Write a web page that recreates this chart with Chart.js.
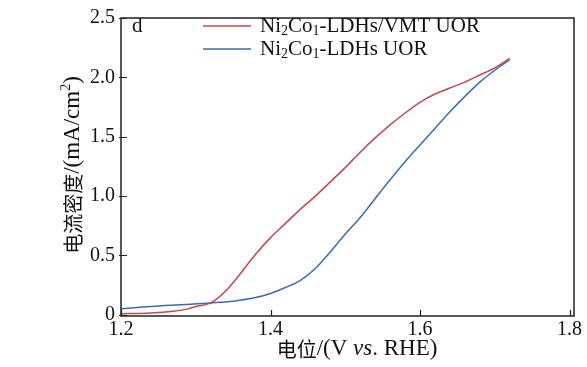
<!DOCTYPE html>
<html>
<head>
<meta charset="utf-8">
<script src="https://cdn.jsdelivr.net/npm/chart.js@4.4.1/dist/chart.umd.min.js"></script>
<style>
  html, body { margin: 0; padding: 0; background: #fff; }
  #wrap { width: 587px; height: 367px; }
</style>
</head>
<body>
<div id="wrap"><canvas id="lsv"></canvas></div>
<script>
// potential (V vs. RHE) and current density (mA/cm2)
const potentialVmt = [1.20, 1.24, 1.27, 1.29, 1.30, 1.32, 1.34, 1.36, 1.38, 1.40, 1.42, 1.44, 1.46, 1.48, 1.50, 1.52, 1.54, 1.56, 1.58, 1.60, 1.62, 1.64, 1.66, 1.68, 1.70, 1.72];
const currentVmt   = [0.01, 0.015, 0.03, 0.05, 0.07, 0.10, 0.20, 0.35, 0.51, 0.65, 0.77, 0.89, 1.00, 1.12, 1.24, 1.37, 1.49, 1.60, 1.70, 1.79, 1.86, 1.91, 1.96, 2.02, 2.08, 2.16];

const potentialLdh = [1.20, 1.24, 1.28, 1.32, 1.35, 1.38, 1.40, 1.42, 1.44, 1.46, 1.48, 1.50, 1.52, 1.55, 1.58, 1.60, 1.62, 1.64, 1.66, 1.68, 1.70, 1.72];
const currentLdh   = [0.05, 0.07, 0.085, 0.10, 0.115, 0.145, 0.18, 0.23, 0.29, 0.39, 0.53, 0.68, 0.82, 1.06, 1.29, 1.43, 1.57, 1.71, 1.84, 1.96, 2.06, 2.15];

const xTicks = [1.2, 1.4, 1.6, 1.8];
const yTicks = [0, 0.5, 1.0, 1.5, 2.0, 2.5];

const serif = "'Liberation Serif', 'Times New Roman', 'Noto Sans CJK SC', serif";
const cjk = "'Noto Sans CJK SC', 'Liberation Serif', serif";

function toPoints(xs, ys) {
    return xs.map((x, i) => ({ x: x, y: ys[i] }));
}

// draws a run of text pieces with different fonts, centred or left aligned
function drawRun(ctx, parts, x, y, centred) {
    let total = 0;
    parts.forEach(p => { ctx.font = p.f; p.w = ctx.measureText(p.t).width; total += p.w; });
    let cx = centred ? x - total / 2 : x;
    parts.forEach(p => {
        ctx.font = p.f;
        ctx.fillText(p.t, cx, y + (p.dy || 0));
        cx += p.w;
    });
}

// frame, inner ticks, axis titles, panel letter and legend
const decorations = {
    id: 'decorations',
    afterDraw(chart) {
        const ctx = chart.ctx;
        const a = chart.chartArea;
        const xs = chart.scales.x, ys = chart.scales.y;
        ctx.save();
        ctx.strokeStyle = '#222';
        ctx.lineWidth = 1.5;
        ctx.strokeRect(a.left, a.top, a.right - a.left, a.bottom - a.top);

        ctx.lineWidth = 1.2;
        ctx.beginPath();
        xTicks.forEach(v => {
            const px = Math.round(xs.getPixelForValue(v)) + 0.5;
            ctx.moveTo(px, a.bottom);
            ctx.lineTo(px, a.bottom - 6);
        });
        yTicks.forEach(v => {
            const py = Math.round(ys.getPixelForValue(v)) + 0.5;
            ctx.moveTo(a.left - 2, py);
            ctx.lineTo(a.left + 6, py);
        });
        ctx.stroke();

        ctx.fillStyle = '#111';
        ctx.textBaseline = 'middle';
        ctx.textAlign = 'left';

        // x title with italic "vs."
        drawRun(ctx, [
            { t: '电位', f: '20px ' + cjk },
            { t: '/(V ', f: '23px ' + serif },
            { t: 'vs', f: 'italic 23px ' + serif },
            { t: '. RHE)', f: '23px ' + serif }
        ], 357, 349, true);

        // y title, rotated
        ctx.save();
        ctx.translate(73, 165);
        ctx.rotate(-Math.PI / 2);
        drawRun(ctx, [
            { t: '电流密度', f: '20px ' + cjk },
            { t: '/(mA/cm', f: '23px ' + serif },
            { t: '2', f: '14px ' + serif, dy: -7 },
            { t: ')', f: '23px ' + serif }
        ], 0, 0, true);
        ctx.restore();

        // panel letter
        ctx.font = '21px ' + serif;
        ctx.fillText('d', a.left + 11, 26);

        // legend
        const rows = [
            { ds: chart.data.datasets[0], y: 26, tail: '-LDHs/VMT UOR' },
            { ds: chart.data.datasets[1], y: 49, tail: '-LDHs UOR' }
        ];
        rows.forEach(r => {
            ctx.strokeStyle = r.ds.borderColor;
            ctx.lineWidth = 1.5;
            ctx.beginPath();
            ctx.moveTo(203, r.y);
            ctx.lineTo(251, r.y);
            ctx.stroke();
            drawRun(ctx, [
                { t: 'Ni', f: '21px ' + serif },
                { t: '2', f: '14px ' + serif, dy: 5 },
                { t: 'Co', f: '21px ' + serif },
                { t: '1', f: '14px ' + serif, dy: 5 },
                { t: r.tail, f: '21px ' + serif }
            ], 260, r.y, false);
        });
        ctx.restore();
    }
};

const ctx = document.getElementById('lsv').getContext('2d');
const lsvChart = new Chart(ctx, {
    type: 'scatter',
    data: {
        datasets: [
            {
                label: 'Ni2Co1-LDHs/VMT UOR',
                data: toPoints(potentialVmt, currentVmt),
                showLine: true,
                borderColor: '#c4474f',
                borderWidth: 1.5,
                pointRadius: 0,
                cubicInterpolationMode: 'monotone'
            },
            {
                label: 'Ni2Co1-LDHs UOR',
                data: toPoints(potentialLdh, currentLdh),
                showLine: true,
                borderColor: '#3a6cb3',
                borderWidth: 1.5,
                pointRadius: 0,
                cubicInterpolationMode: 'monotone'
            }
        ]
    },
    options: {
        responsive: true,
        maintainAspectRatio: false,
        animation: false,
        layout: {
            padding: { top: 13, right: 13, left: 0, bottom: 0 }
        },
        plugins: {
            legend: { display: false },
            tooltip: { enabled: false }
        },
        scales: {
            x: {
                type: 'linear',
                min: 1.2,
                max: 1.806,
                afterBuildTicks: scale => { scale.ticks = xTicks.map(v => ({ value: v })); },
                afterFit: scale => { scale.height = 51; },
                grid: { display: false, drawTicks: false },
                border: { display: false },
                ticks: {
                    padding: 2,
                    color: '#111',
                    font: { family: serif, size: 20 },
                    callback: v => v.toFixed(1)
                }
            },
            y: {
                type: 'linear',
                min: -0.01,
                max: 2.5,
                afterBuildTicks: scale => { scale.ticks = yTicks.map(v => ({ value: v })); },
                afterFit: scale => { scale.width = 121; },
                grid: { display: false, drawTicks: false },
                border: { display: false },
                ticks: {
                    padding: 6,
                    color: '#111',
                    font: { family: serif, size: 20 },
                    callback: v => (v === 0 ? '0' : v.toFixed(1))
                }
            }
        }
    },
    plugins: [decorations]
});
</script>
</body>
</html>
